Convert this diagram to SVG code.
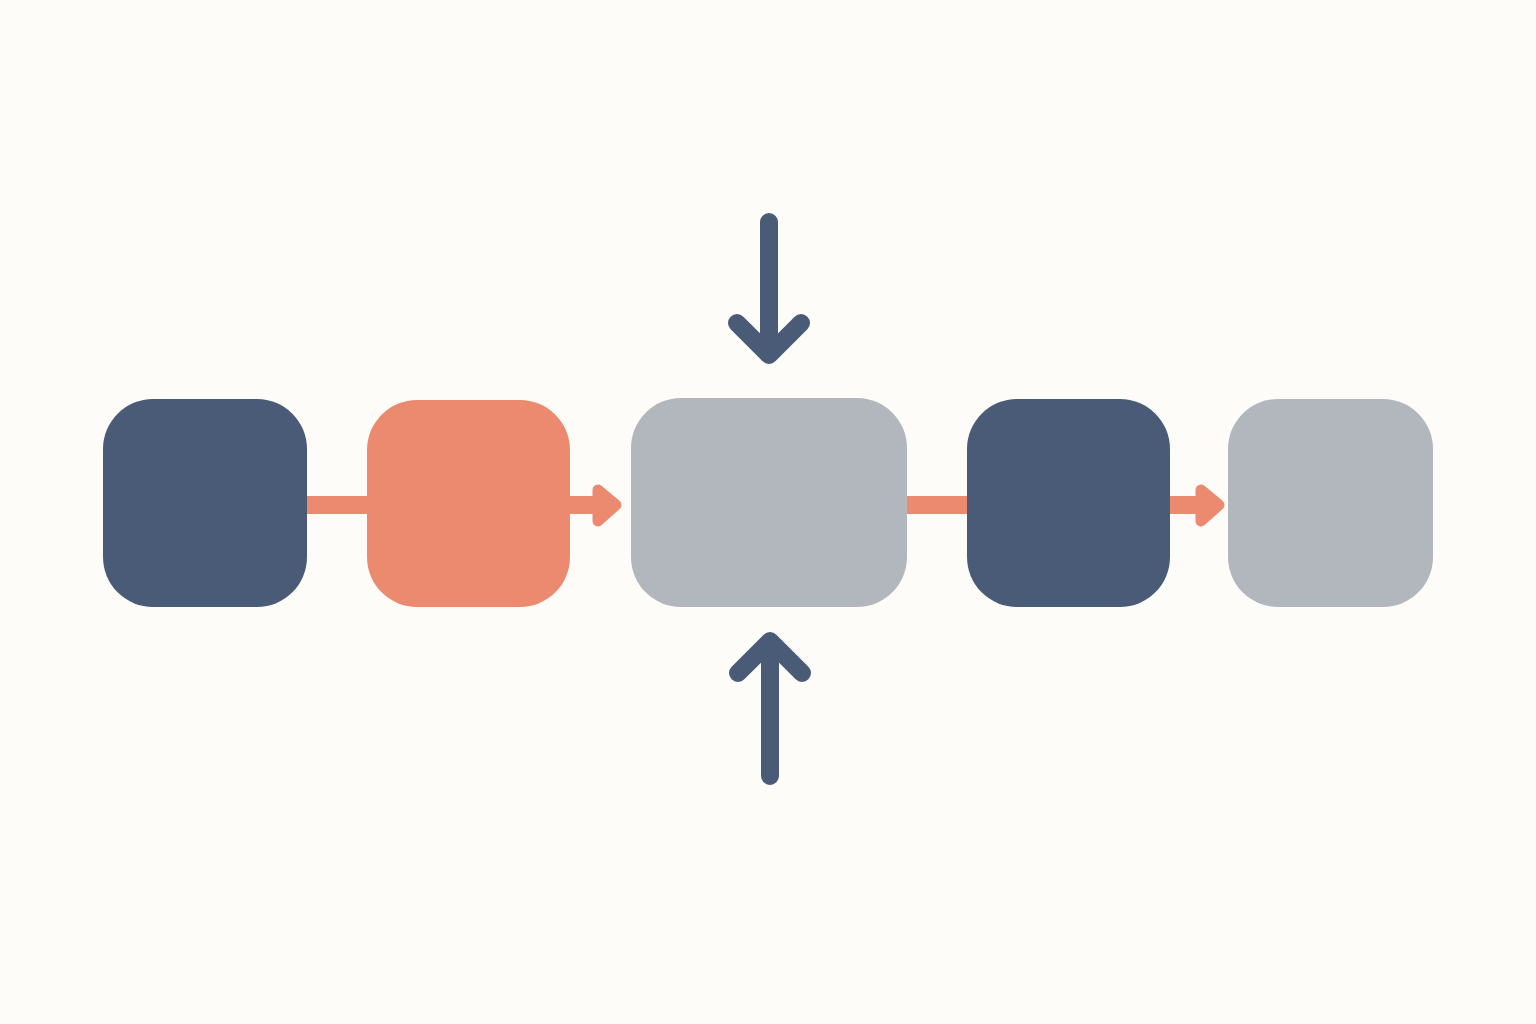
<svg xmlns="http://www.w3.org/2000/svg" width="1536" height="1024" viewBox="0 0 1536 1024">
  <style>
    .navy { fill: #4a5b78; }
    .coral { fill: #ec8a70; }
    .gray { fill: #b2b7be; }
    .flow { stroke: #ec8a70; stroke-width: 18; fill: none; }
    .head { fill: #ec8a70; stroke: #ec8a70; stroke-width: 11; stroke-linejoin: round; }
    .push { stroke: #4a5b78; stroke-width: 18; fill: none; stroke-linecap: round; stroke-linejoin: round; }
  </style>
  <rect x="0" y="0" width="1536" height="1024" fill="#fdfcf8"/>
  <g id="connectors">
    <line class="flow" x1="305" y1="505" x2="600" y2="505"/>
    <polygon class="head" points="598,490 616,505 598,521"/>
    <line class="flow" x1="905" y1="505" x2="1202" y2="505"/>
    <polygon class="head" points="1201,490 1219,505 1201,521"/>
    <path class="push" d="M769,222 V354 M737,323 L769,355 L801,323"/>
    <path class="push" d="M770,776 V642 M738,673 L770,641 L802,673"/>
  </g>
  <g id="node1"><rect class="navy" x="103" y="399" width="204" height="208" rx="50"/></g>
  <g id="node2"><rect class="coral" x="367" y="400" width="203" height="207" rx="50"/></g>
  <g id="node3"><rect class="gray" x="631" y="398" width="276" height="209" rx="50"/></g>
  <g id="node4"><rect class="navy" x="967" y="399" width="203" height="208" rx="50"/></g>
  <g id="node5"><rect class="gray" x="1228" y="399" width="205" height="208" rx="50"/></g>
</svg>
